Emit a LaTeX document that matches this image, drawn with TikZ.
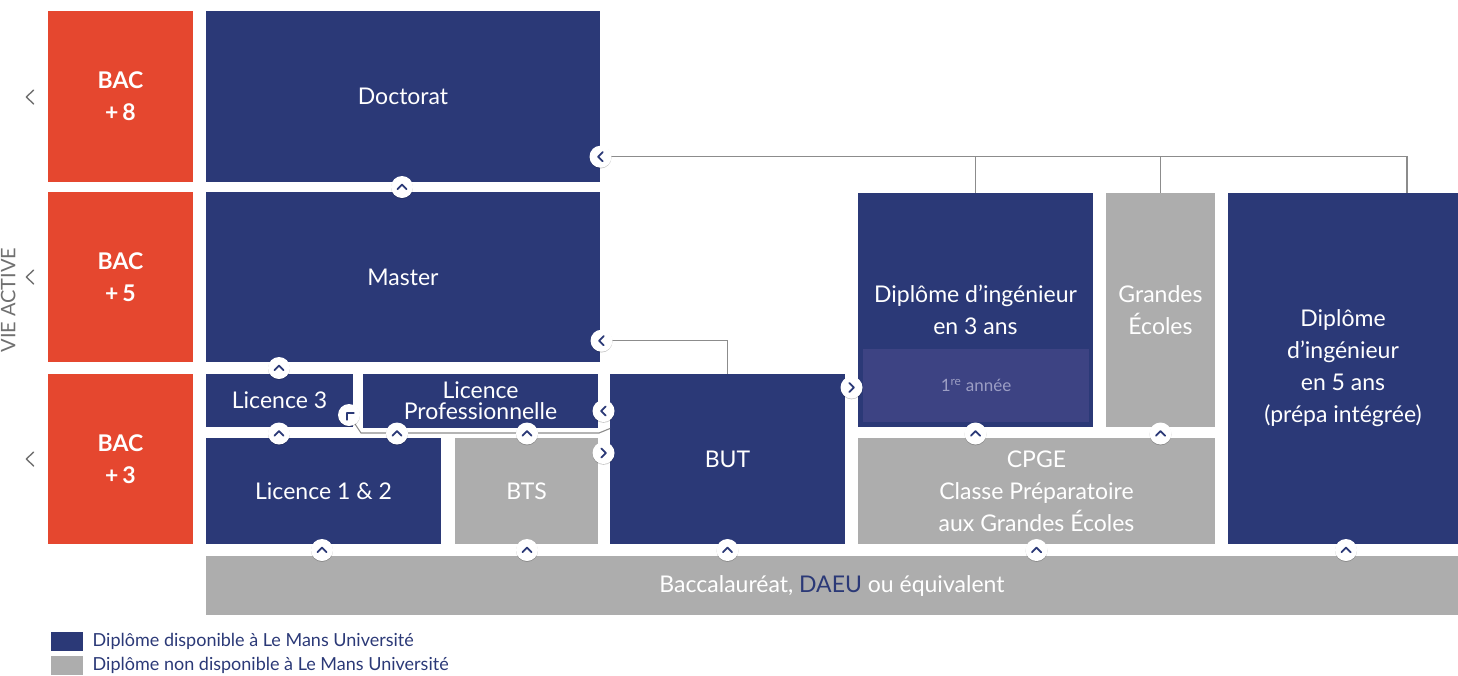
\documentclass[tikz,border=0pt]{standalone}
\usepackage{fontspec}
\setmainfont{Lato}
\usetikzlibrary{shadows,calc}
\definecolor{navy}{RGB}{43,57,119}
\definecolor{bacred}{RGB}{229,71,47}
\definecolor{nongray}{RGB}{173,173,173}
\definecolor{innerblue}{RGB}{61,67,131}
\definecolor{innertext}{RGB}{156,158,196}
\definecolor{conngray}{RGB}{140,140,140}
\definecolor{viegray}{RGB}{112,112,112}
\begin{document}
\begin{tikzpicture}[x=1pt,y=-1pt,
  box/.style={inner sep=0pt, outer sep=0pt, align=center, text=white,
    font=\fontsize{23}{32}\selectfont},
  navybox/.style={box, fill=navy},
  graybox/.style={box, fill=nongray},
  redbox/.style={box, fill=bacred, font=\fontsize{23}{32}\selectfont\bfseries},
  conn/.style={draw=conngray, line width=1.1pt},
  badge/.style={circle, fill=white, minimum size=22pt, inner sep=0pt,
    drop shadow={shadow xshift=0pt, shadow yshift=-0.8pt, opacity=0.22, fill=black}},
  chev/.pic={\draw[navy, line width=1.8pt, line cap=round, line join=round]
      (-4.6pt,-2.2pt) -- (0pt,2.4pt) -- (4.6pt,-2.2pt);},
  viechev/.pic={\draw[viegray, line width=1.4pt, line cap=round, line join=round]
      (3.6pt,7pt) -- (-3.6pt,0pt) -- (3.6pt,-7pt);},
  legsq/.style={minimum width=32pt, minimum height=18.5pt, inner sep=0pt},
  legtext/.style={anchor=west, inner sep=0pt, text=navy, font=\fontsize{18}{20}\selectfont}
]
\useasboundingbox (0,0) rectangle (1458,675);

% BAC levels
\node[redbox, minimum width=145pt, minimum height=171pt] (bac8) at (120.5,96.5) {BAC\\+\,8};
\node[redbox, minimum width=145pt, minimum height=170pt] (bac5) at (120.5,277) {BAC\\+\,5};
\node[redbox, minimum width=145pt, minimum height=170pt] (bac3) at (120.5,459) {BAC\\+\,3};

% diplomas
\node[navybox, minimum width=394pt, minimum height=171pt] (doc) at (403,96.5) {Doctorat};
\node[navybox, minimum width=394pt, minimum height=170pt] (mas) at (403,277) {Master};
\node[navybox, minimum width=147pt, minimum height=52.5pt] (l3) at (279.5,400.25) {Licence 3};
\node[navybox, minimum width=235pt, minimum height=53.5pt, font=\fontsize{23}{21}\selectfont] (lpro) at (480.5,400.75) {Licence\\Professionnelle};
\node[navybox, minimum width=235pt, minimum height=106pt] (l12) at (323.5,491) {Licence 1 \& 2};
\node[graybox, minimum width=143pt, minimum height=106pt] (bts) at (526.5,491) {BTS};
\node[navybox, minimum width=235pt, minimum height=170pt] (but) at (727.5,459) {BUT};
\node[navybox, minimum width=235pt, minimum height=234.5pt] (ing3) at (975.5,309.75) {Diplôme d’ingénieur\\en 3 ans};
\node[box, fill=innerblue, minimum width=226pt, minimum height=72.5pt, text=innertext,
  font=\fontsize{17}{20}\selectfont] (ann1) at (976,385.25) {1\textsuperscript{re} année};
\node[graybox, minimum width=109pt, minimum height=234.5pt] (ge) at (1160.5,309.75) {Grandes\\Écoles};
\node[navybox, minimum width=230pt, minimum height=351.5pt] (ing5) at (1343,368.25) {Diplôme\\d’ingénieur\\en 5 ans\\(prépa intégrée)};
\node[graybox, minimum width=357pt, minimum height=106pt] (cpge) at (1036.5,491) {CPGE\\Classe Préparatoire\\aux Grandes Écoles};
\node[graybox, minimum width=1252pt, minimum height=59pt] (bacc) at (832,585.5) {Baccalauréat, \textcolor{navy}{DAEU} ou équivalent};

% vie active
\node[rotate=90, anchor=base, inner sep=0pt, text=viegray, font=\fontsize{20}{22}\selectfont] (vie) at (15.5,300) {VIE ACTIVE};
\coordinate (v8) at (30,97);
\coordinate (v5) at (30,277);
\coordinate (v3) at (30,459);
\pic at (v8) {viechev};
\pic at (v5) {viechev};
\pic at (v3) {viechev};

% badge positions
\coordinate (pdoc) at (600.5,156.7);
\coordinate (pmas) at (601.5,340.7);
\coordinate (pl3c) at (349,415);
\coordinate (t5) at (1407,192.5);
\coordinate (k1) at (361,433);
\coordinate (k2) at (599,433);
\coordinate (k3) at (610,428.5);

% connectors
\draw[conn] (pdoc) -- (pdoc -| t5) -- (t5);
\draw[conn] (ing3.north) -- (ing3.north |- pdoc);
\draw[conn] (ge.north) -- (ge.north |- pdoc);
\draw[conn] (pmas) -- (pmas -| but.north) -- (but.north);
\draw[conn] (pl3c) -- (k1) -- (k2) -- (k3);

% badges
\node[badge] (bdm) at (402,187) {};
\node[badge] (bdoc) at (pdoc) {};
\node[badge] (bmas) at (pmas) {};
\node[badge] (bml3) at (279,368) {};
\node[badge] (bl3c) at (pl3c) {};
\node[badge] (bl12a) at (279,433.5) {};
\node[badge] (bl12b) at (397,433.5) {};
\node[badge] (bbts) at (527,433.5) {};
\node[badge] (blpro) at (603.5,411) {};
\node[badge] (bbtsr) at (603.5,453) {};
\node[badge] (bbut) at (851.5,387.5) {};
\node[badge] (bcp1) at (975.5,433.5) {};
\node[badge] (bcp2) at (1160.5,433.5) {};
\node[badge] (bb1) at (322,550) {};
\node[badge] (bb2) at (527,550) {};
\node[badge] (bb3) at (727.5,550) {};
\node[badge] (bb4) at (1036.5,550) {};
\node[badge] (bb5) at (1346,550) {};

% chevrons in badges
\foreach \b in {bdm,bml3,bl12a,bl12b,bbts,bcp1,bcp2,bb1,bb2,bb3,bb4,bb5}
  \pic at (\b.center) {chev};
\foreach \b in {bdoc,bmas,blpro}
  \pic[rotate=90] at (\b.center) {chev};
\foreach \b in {bbtsr,bbut}
  \pic[rotate=-90] at (\b.center) {chev};
\pic[rotate=45] at (bl3c.center) {chev};

% legend
\node[legsq, fill=navy] (lg1) at (67,641.3) {};
\node[legtext] (lt1) at (92.5,641.3) {Diplôme disponible à Le Mans Université};
\node[legsq, fill=nongray] (lg2) at (67,665.5) {};
\node[legtext] (lt2) at (92.5,665.5) {Diplôme non disponible à Le Mans Université};
\end{tikzpicture}
\end{document}
